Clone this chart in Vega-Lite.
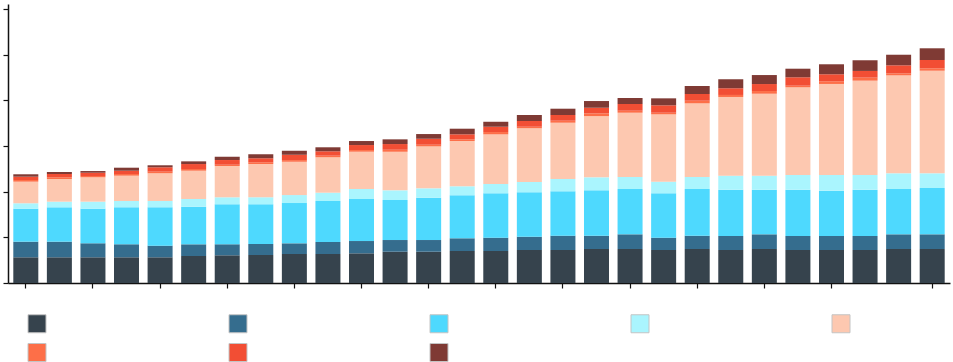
{
  "$schema": "https://vega.github.io/schema/vega-lite/v6.json",
  "autosize": {"type": "none"},
  "padding": {"left": 8, "top": 4, "right": 3, "bottom": 79},
  "width": 942,
  "height": 279,
  "background": "white",
  "data": {
    "values": [
      {"year": "1990", "s1": 5.63, "s2": 3.42, "s3": 7.23, "s4": 1.18, "s5": 4.73, "s6": 0.37, "s7": 0.72, "s8": 0.53},
      {"year": "1991", "s1": 5.63, "s2": 3.42, "s3": 7.53, "s4": 1.23, "s5": 4.97, "s6": 0.37, "s7": 0.72, "s8": 0.44},
      {"year": "1992", "s1": 5.63, "s2": 3.07, "s3": 7.58, "s4": 1.53, "s5": 5.34, "s6": 0.28, "s7": 0.72, "s8": 0.37},
      {"year": "1993", "s1": 5.63, "s2": 2.85, "s3": 8.10, "s4": 1.38, "s5": 5.54, "s6": 0.37, "s7": 0.72, "s8": 0.66},
      {"year": "1994", "s1": 5.63, "s2": 2.54, "s3": 8.41, "s4": 1.38, "s5": 6.07, "s6": 0.35, "s7": 0.96, "s8": 0.44},
      {"year": "1995", "s1": 5.91, "s2": 2.56, "s3": 8.23, "s4": 1.69, "s5": 6.20, "s6": 0.37, "s7": 1.09, "s8": 0.59},
      {"year": "1996", "s1": 6.07, "s2": 2.41, "s3": 8.76, "s4": 1.53, "s5": 6.85, "s6": 0.28, "s7": 1.03, "s8": 0.72},
      {"year": "1997", "s1": 6.13, "s2": 2.41, "s3": 8.69, "s4": 1.53, "s5": 7.29, "s6": 0.37, "s7": 0.88, "s8": 0.88},
      {"year": "1998", "s1": 6.35, "s2": 2.34, "s3": 8.82, "s4": 1.75, "s5": 7.29, "s6": 0.37, "s7": 1.16, "s8": 0.88},
      {"year": "1999", "s1": 6.35, "s2": 2.63, "s3": 8.98, "s4": 1.82, "s5": 7.75, "s6": 0.35, "s7": 0.96, "s8": 0.88},
      {"year": "2000", "s1": 6.50, "s2": 2.69, "s3": 9.20, "s4": 2.19, "s5": 8.17, "s6": 0.37, "s7": 1.09, "s8": 0.88},
      {"year": "2001", "s1": 6.85, "s2": 2.56, "s3": 8.76, "s4": 2.12, "s5": 8.45, "s6": 0.44, "s7": 1.25, "s8": 1.03},
      {"year": "2002", "s1": 6.85, "s2": 2.56, "s3": 9.26, "s4": 2.06, "s5": 9.20, "s6": 0.35, "s7": 1.31, "s8": 1.03},
      {"year": "2003", "s1": 7.01, "s2": 2.78, "s3": 9.42, "s4": 1.97, "s5": 9.92, "s6": 0.37, "s7": 1.09, "s8": 1.23},
      {"year": "2004", "s1": 7.01, "s2": 2.91, "s3": 9.72, "s4": 2.04, "s5": 10.88, "s6": 0.50, "s7": 1.16, "s8": 1.09},
      {"year": "2005", "s1": 7.23, "s2": 2.91, "s3": 9.72, "s4": 2.26, "s5": 11.76, "s6": 0.35, "s7": 1.25, "s8": 1.31},
      {"year": "2006", "s1": 7.23, "s2": 3.13, "s3": 9.72, "s4": 2.69, "s5": 12.33, "s6": 0.44, "s7": 1.25, "s8": 1.38},
      {"year": "2007", "s1": 7.44, "s2": 2.91, "s3": 9.94, "s4": 2.85, "s5": 13.42, "s6": 0.59, "s7": 1.23, "s8": 1.47},
      {"year": "2008", "s1": 7.44, "s2": 3.22, "s3": 9.92, "s4": 2.63, "s5": 14.08, "s6": 0.44, "s7": 1.47, "s8": 1.31},
      {"year": "2009", "s1": 7.23, "s2": 2.69, "s3": 9.72, "s4": 2.54, "s5": 14.76, "s6": 0.35, "s7": 1.62, "s8": 1.53},
      {"year": "2010", "s1": 7.44, "s2": 2.91, "s3": 10.23, "s4": 2.63, "s5": 16.14, "s6": 0.57, "s7": 1.47, "s8": 1.75},
      {"year": "2011", "s1": 7.23, "s2": 3.07, "s3": 10.14, "s4": 3.07, "s5": 17.23, "s6": 0.44, "s7": 1.47, "s8": 1.97},
      {"year": "2012", "s1": 7.44, "s2": 3.22, "s3": 9.77, "s4": 3.07, "s5": 17.95, "s6": 0.59, "s7": 1.53, "s8": 1.97},
      {"year": "2013", "s1": 7.23, "s2": 3.07, "s3": 10.14, "s4": 3.22, "s5": 19.20, "s6": 0.35, "s7": 1.84, "s8": 1.88},
      {"year": "2014", "s1": 7.23, "s2": 3.07, "s3": 9.92, "s4": 3.44, "s5": 19.93, "s6": 0.59, "s7": 1.53, "s8": 2.19},
      {"year": "2015", "s1": 7.23, "s2": 3.07, "s3": 10.14, "s4": 3.22, "s5": 20.65, "s6": 0.66, "s7": 1.47, "s8": 2.34},
      {"year": "2016", "s1": 7.44, "s2": 3.22, "s3": 9.92, "s4": 3.44, "s5": 21.46, "s6": 0.44, "s7": 1.75, "s8": 2.32},
      {"year": "2017", "s1": 7.44, "s2": 3.22, "s3": 10.14, "s4": 3.22, "s5": 22.47, "s6": 0.53, "s7": 1.82, "s8": 2.56}
    ]
  },
  "transform": [
    {"fold": ["s1", "s2", "s3", "s4", "s5", "s6", "s7", "s8"], "as": ["series", "value"]}
  ],
  "mark": {"type": "bar"},
  "encoding": {
    "x": {
      "field": "year",
      "type": "ordinal",
      "scale": {"paddingInner": 0.255, "paddingOuter": 0.158},
      "axis": {
        "title": null,
        "labels": false,
        "values": ["1990", "1992", "1994", "1996", "1998", "2000", "2002", "2004", "2006", "2008", "2010", "2012", "2014", "2017"],
        "tickSize": 5,
        "tickColor": "#111",
        "domainColor": "#111",
        "domainWidth": 1.5,
        "tickWidth": 1.2,
        "grid": false
      }
    },
    "y": {
      "field": "value",
      "type": "quantitative",
      "stack": "zero",
      "scale": {"domain": [0, 61.1], "nice": false},
      "axis": {
        "title": null,
        "labels": false,
        "values": [0, 10, 20, 30, 40, 50, 60],
        "tickSize": 5,
        "tickColor": "#111",
        "domainColor": "#111",
        "domainWidth": 1.5,
        "tickWidth": 1.2,
        "grid": false
      }
    },
    "order": {"field": "series", "sort": "ascending"},
    "color": {
      "field": "series",
      "type": "nominal",
      "scale": {
        "domain": ["s1", "s2", "s3", "s4", "s5", "s6", "s7", "s8"],
        "range": ["#36434d", "#356d8e", "#4ed9fe", "#aaf5fe", "#fdc8b0", "#fd6f48", "#f24e34", "#7f3a34"]
      },
      "legend": {
        "title": null,
        "orient": "none",
        "legendX": 19.5,
        "legendY": 310,
        "direction": "horizontal",
        "columns": 5,
        "columnPadding": 176,
        "rowPadding": 6,
        "padding": 0,
        "symbolType": "square",
        "symbolSize": 324,
        "symbolStrokeColor": "#c4c4c4",
        "symbolStrokeWidth": 1,
        "symbolOpacity": 1,
        "labelExpr": "''",
        "labelFontSize": 1,
        "labelOffset": 4
      }
    }
  },
  "config": {"view": {"stroke": null}}
}
